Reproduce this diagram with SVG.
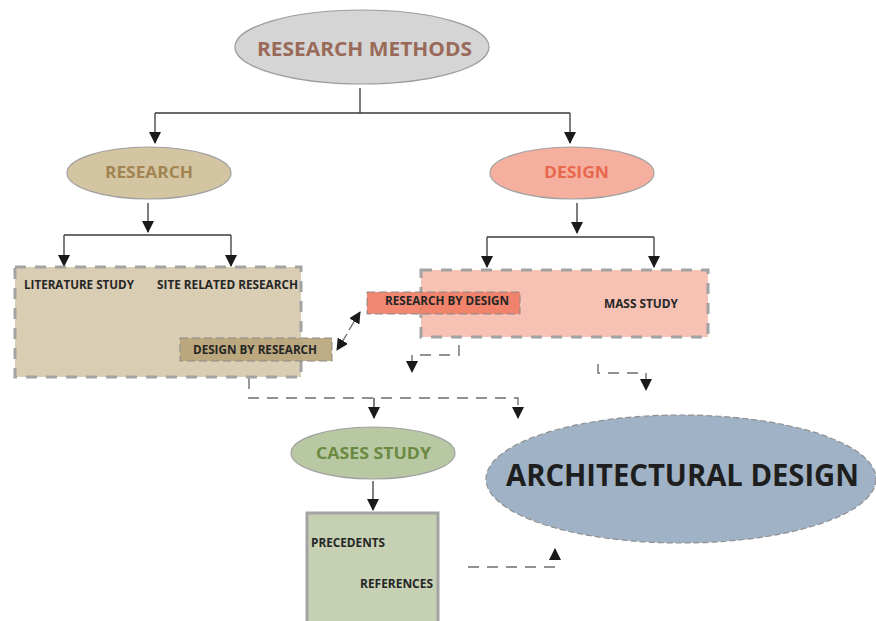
<svg xmlns="http://www.w3.org/2000/svg" width="876" height="621" viewBox="0 0 876 621">
<defs>
<style>
.t{font-family:"Open Sans",Lato,"Liberation Sans",sans-serif;font-weight:700}
.s{font-size:11.5px;fill:#262626}
.ln{fill:none;stroke:#3a3a3a;stroke-width:1.3}
.dl{fill:none;stroke:#6e6e6e;stroke-width:1.4;stroke-dasharray:11 8}
.dbox{stroke:#a3a3a3;stroke-width:3;stroke-dasharray:11 9}
</style>
<marker id="ah" markerUnits="userSpaceOnUse" markerWidth="12" markerHeight="12" viewBox="0 0 12 12" refX="11" refY="6" orient="auto">
<path d="M0,0 L12,6 L0,12 Z" fill="#1a1a1a"/>
</marker>
</defs>
<rect width="876" height="621" fill="#ffffff"/>

<g id="connectors">
<path class="ln" d="M360,88 V113 M155,113 H570"/>
<path class="ln" d="M155,113 V143" marker-end="url(#ah)"/>
<path class="ln" d="M570,113 V143" marker-end="url(#ah)"/>
<path class="ln" d="M148,203 V232" marker-end="url(#ah)"/>
<path class="ln" d="M64,235 H231"/>
<path class="ln" d="M64,235 V266" marker-end="url(#ah)"/>
<path class="ln" d="M231,235 V266" marker-end="url(#ah)"/>
<path class="ln" d="M577,203 V233" marker-end="url(#ah)"/>
<path class="ln" d="M487,237 H654"/>
<path class="ln" d="M487,237 V267" marker-end="url(#ah)"/>
<path class="ln" d="M654,237 V267" marker-end="url(#ah)"/>
<path class="dl" d="M113,297 V307 H203 V325" marker-end="url(#ah)"/>
<path class="dl" d="M270,297 V307 H249 V325" marker-end="url(#ah)"/>
<path class="dl" d="M347,334 L337,350" marker-end="url(#ah)"/>
<path class="dl" d="M349,330 L360,312" marker-end="url(#ah)"/>
<path class="dl" d="M459,345 V355 H412 V372" marker-end="url(#ah)"/>
<path class="dl" d="M598,364 V373 H646 V390" marker-end="url(#ah)"/>
<path class="dl" d="M249,378 V398 H518 V418" marker-end="url(#ah)"/>
<path class="ln" d="M374,398 V418" marker-end="url(#ah)"/>
<path class="ln" d="M373,481 V510" marker-end="url(#ah)"/>
<path class="dl" d="M468,567 H555 V549" marker-end="url(#ah)"/>
</g>

<g id="research-methods">
<ellipse cx="362" cy="47" rx="127" ry="37" fill="#d5d5d6" stroke="#9c9c9c" stroke-width="1.2"/>
<text class="t" x="257" y="56" font-size="20" fill="#9a6a58" textLength="215" lengthAdjust="spacingAndGlyphs">RESEARCH METHODS</text>
</g>

<g id="research">
<ellipse cx="149" cy="173" rx="82" ry="26" fill="#d3c5a2" stroke="#a0a0a0" stroke-width="1.2"/>
<text class="t" x="105" y="178" font-size="16" fill="#a18452" textLength="88" lengthAdjust="spacingAndGlyphs">RESEARCH</text>
</g>

<g id="design">
<ellipse cx="572" cy="173" rx="82" ry="26" fill="#f5af9f" stroke="#a0a0a0" stroke-width="1.2"/>
<text class="t" x="544" y="178" font-size="16" fill="#e8684e" textLength="65" lengthAdjust="spacingAndGlyphs">DESIGN</text>
</g>

<g id="research-box">
<rect class="dbox" x="15" y="267" width="286" height="110" fill="#d9cdb3"/>
<text class="t s" x="24" y="289" textLength="110" lengthAdjust="spacingAndGlyphs">LITERATURE STUDY</text>
<text class="t s" x="157" y="289" textLength="141" lengthAdjust="spacingAndGlyphs">SITE RELATED RESEARCH</text>
</g>

<g id="design-by-research">
<rect x="180" y="338" width="152" height="23" fill="#b9a57a" fill-opacity="0.92" stroke="#8a8a8a" stroke-width="1" stroke-dasharray="8 4"/>
<text class="t s" x="193" y="354" textLength="124" lengthAdjust="spacingAndGlyphs">DESIGN BY RESEARCH</text>
</g>

<g id="design-box">
<rect class="dbox" x="421" y="270" width="287" height="67" fill="#f7c1b4"/>
<text class="t s" x="604" y="308" textLength="74" lengthAdjust="spacingAndGlyphs">MASS STUDY</text>
</g>

<g id="research-by-design">
<rect x="367" y="292" width="153" height="22" fill="#f07e66" fill-opacity="0.92" stroke="#8a8a8a" stroke-width="1" stroke-dasharray="8 4"/>
<text class="t s" x="385" y="305" textLength="124" lengthAdjust="spacingAndGlyphs">RESEARCH BY DESIGN</text>
</g>

<g id="cases-study">
<ellipse cx="373" cy="453" rx="82" ry="26" fill="#b8c8a3" stroke="#a0a0a0" stroke-width="1.2"/>
<text class="t" x="316" y="459" font-size="16" fill="#6b8a41" textLength="115" lengthAdjust="spacingAndGlyphs">CASES STUDY</text>
</g>

<g id="cases-box">
<rect x="307" y="513" width="131" height="112" fill="#c6d1b3" stroke="#a3a3a3" stroke-width="3"/>
<text class="t s" x="311" y="547" textLength="74" lengthAdjust="spacingAndGlyphs">PRECEDENTS</text>
<text class="t s" x="360" y="588" textLength="73" lengthAdjust="spacingAndGlyphs">REFERENCES</text>
</g>

<g id="architectural-design">
<ellipse cx="681" cy="479" rx="195" ry="64" fill="#a0b2c5" stroke="#8f8f8f" stroke-width="1.2" stroke-dasharray="6 3"/>
<text class="t" x="506" y="486" font-size="30" fill="#1e1e1e" textLength="353" lengthAdjust="spacingAndGlyphs">ARCHITECTURAL DESIGN</text>
</g>
</svg>
